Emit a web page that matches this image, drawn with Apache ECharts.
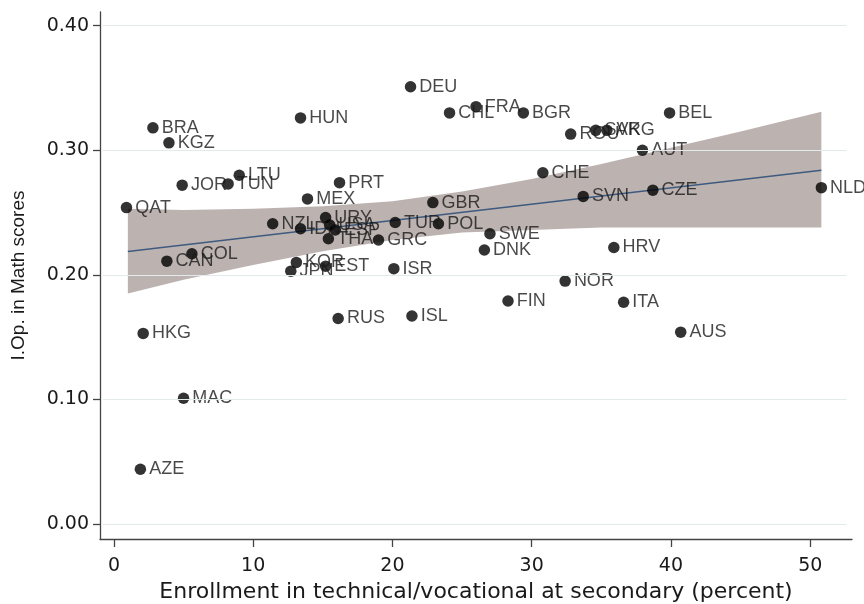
<!DOCTYPE html>
<html><head><meta charset="utf-8">
<script src="https://cdn.jsdelivr.net/npm/echarts@6/dist/echarts.min.js"></script>
<style>html,body{margin:0;padding:0;background:#fff}#c{width:864px;height:604px}</style>
</head><body><div id="c"></div>
<script>
const countries = ['DEU','CHL','FRA','BGR','ROU','SVK','ARG','BEL','AUT','CHE','SVN','CZE','NLD','HRV','NOR','FIN','ITA','AUS','SWE','DNK','GBR','TUR','POL','GRC','ISR','HUN','BRA','KGZ','JOR','LTU','TUN','QAT','CAN','COL','PRT','MEX','URY','NZL','IDN','USA','ESP','THA','KOR','JPN','EST','RUS','ISL','HKG','MAC','AZE'];
const enrollment = [21.3,24.1,26.0,29.4,32.8,34.6,35.4,39.9,37.95,30.8,33.7,38.7,50.8,35.9,32.4,28.3,36.6,40.7,27.0,26.6,22.9,20.2,23.3,19.0,20.1,13.4,2.8,3.95,4.9,9.0,8.2,0.9,3.8,5.6,16.2,13.9,15.2,11.4,13.4,15.5,15.9,15.4,13.1,12.7,15.2,16.1,21.4,2.1,5.0,1.9];
const iopMath = [0.351,0.330,0.335,0.330,0.313,0.316,0.316,0.330,0.300,0.282,0.263,0.268,0.270,0.222,0.195,0.179,0.178,0.154,0.233,0.220,0.258,0.242,0.241,0.228,0.205,0.326,0.318,0.306,0.272,0.280,0.273,0.254,0.211,0.217,0.274,0.261,0.246,0.241,0.237,0.240,0.236,0.229,0.210,0.203,0.207,0.165,0.167,0.153,0.101,0.044];
const fitX = [1.0, 50.8];
const fitY = [0.2187, 0.2840];
const bandX = [1, 5, 10, 15, 20, 25, 30, 35, 40, 45, 50.8];
const bandUpper = [0.253,0.252,0.253,0.255,0.259,0.267,0.277,0.289,0.302,0.315,0.331];
const bandLower = [0.185,0.196,0.208,0.219,0.228,0.234,0.236,0.238,0.238,0.238,0.238];
const xTicks = [0,10,20,30,40,50];
const yTicks = [0,0.1,0.2,0.3,0.4];

const FONT = 'Liberation Sans';
const WIDE = 'DejaVu Sans';
const chart = echarts.init(document.getElementById('c'), null, {renderer:'canvas'});
chart.setOption({
  animation:false,
  backgroundColor:'#fff',
  grid:{left:100, right:12, top:12, bottom:65, containLabel:false, outerBoundsMode:'none'},
  xAxis:{
    type:'value', min:-1, max:53,
    name:'Enrollment in technical/vocational at secondary (percent)',
    nameLocation:'middle', nameGap:41,
    nameTextStyle:{fontFamily:WIDE, fontSize:22, color:'#1a1a1a'},
    axisLine:{show:true, onZero:false, lineStyle:{color:'#444', width:1.3}},
    axisTick:{show:true, customValues:xTicks, length:8, lineStyle:{color:'#444', width:1.3}},
    axisLabel:{customValues:xTicks, fontFamily:WIDE, fontSize:19, color:'#1a1a1a', margin:18},
    splitLine:{show:false}
  },
  yAxis:{
    type:'value', min:-0.012, max:0.411,
    name:'I.Op. in Math scores',
    nameLocation:'middle', nameGap:72,
    nameTextStyle:{fontFamily:FONT, fontSize:19, color:'#1a1a1a'},
    axisLine:{show:true, onZero:false, lineStyle:{color:'#444', width:1.3}},
    axisTick:{show:true, customValues:yTicks, length:7, lineStyle:{color:'#444', width:1.3}},
    axisLabel:{customValues:yTicks, fontFamily:WIDE, fontSize:19, color:'#1a1a1a', margin:11,
      formatter:v=>Number(v).toFixed(2)},
    splitLine:{show:false}
  },
  series:[
    {
      type:'line', data:[], z:0, silent:true,
      markLine:{silent:true, symbol:'none', label:{show:false},
        lineStyle:{color:'#e2eaec', type:'solid', width:1.2},
        data:yTicks.map(v=>[{coord:[-0.8, v]},{coord:[52.6, v]}])}
    },
    {
      type:'custom', z:1, silent:true,
      data: bandX.map((x,i)=>[x, bandLower[i], bandUpper[i]]),
      encode:{x:0, y:[1,2]},
      renderItem:(params, api)=>{
        if (params.dataIndex !== 0) return null;
        const pts = [];
        for (let i=0;i<bandX.length;i++) pts.push(api.coord([bandX[i], bandUpper[i]]));
        for (let i=bandX.length-1;i>=0;i--) pts.push(api.coord([bandX[i], bandLower[i]]));
        return {type:'polygon', shape:{points:pts}, style:{fill:'#bcb3b1'}};
      }
    },
    {
      type:'line', z:2, silent:true, symbol:'none',
      data: fitX.map((x,i)=>[x, fitY[i]]),
      lineStyle:{color:'#3e5a7e', width:1.6}
    },
    {
      type:'scatter', z:3, symbol:'circle', symbolSize:11.5,
      itemStyle:{color:'#000'},
      data: countries.map((c,i)=>({name:c, value:[enrollment[i], iopMath[i]]})),
      label:{show:true, position:'right', distance:3, formatter:'{b}',
        fontFamily:FONT, fontSize:18, color:'#1a1a1a'}
    }
  ]
});
</script></body></html>
